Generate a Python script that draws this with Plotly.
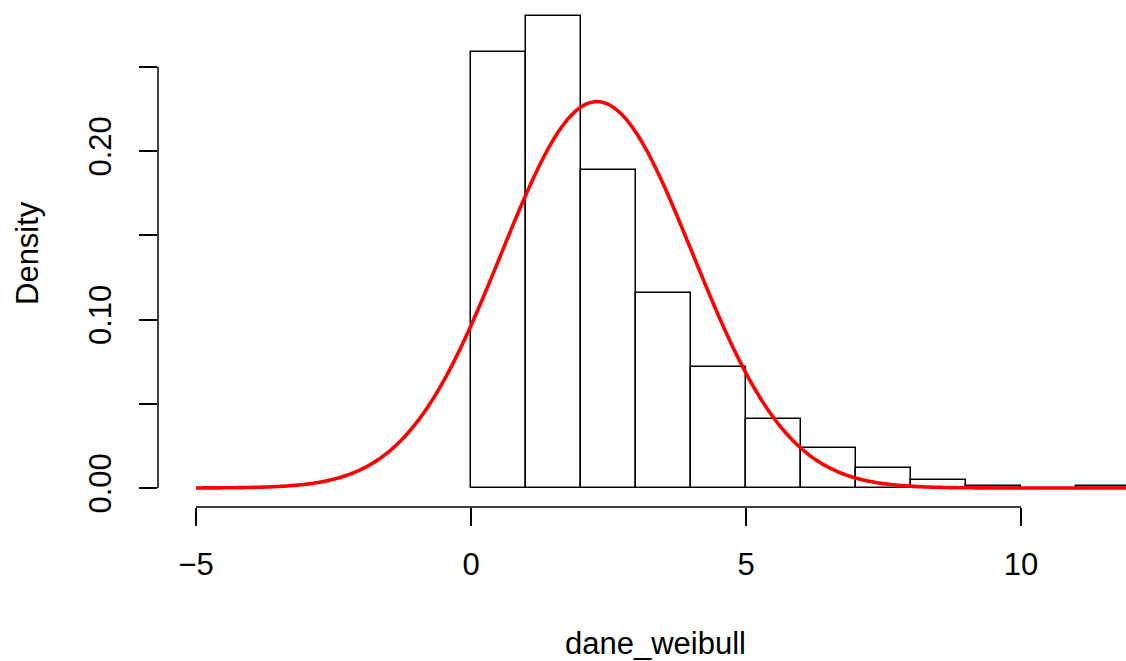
import numpy as np
import plotly.graph_objects as go

# Histogram data (density per unit-width bin)
bin_left = [0, 1, 2, 3, 4, 5, 6, 7, 8, 9, 10, 11]
bin_density = [0.259, 0.280, 0.189, 0.116, 0.072, 0.041, 0.024, 0.012, 0.005, 0.001, 0.0, 0.001]
bin_width = 1

# Fitted normal curve parameters
curve_mean = 2.29
curve_sd = 1.74
curve_from, curve_to = -5, 12

x_ticks = [-5, 0, 5, 10]
x_ticktext = ["\u22125", "0", "5", "10"]
y_ticks = [0.0, 0.05, 0.10, 0.15, 0.20, 0.25]
y_ticktext = ["0.00", "", "0.10", "", "0.20", ""]

FONT = "Liberation Sans, Arial, Helvetica, sans-serif"
FS = 31

xs = np.linspace(curve_from, curve_to, 601)
ys = np.exp(-(xs - curve_mean) ** 2 / (2 * curve_sd ** 2)) / (curve_sd * np.sqrt(2 * np.pi))

centers = [b + bin_width / 2 for b, d in zip(bin_left, bin_density) if d > 0]
heights = [d for d in bin_density if d > 0]

fig = go.Figure()
fig.add_trace(go.Bar(
    x=centers, y=heights, width=bin_width,
    marker=dict(color="white", line=dict(color="black", width=1.5)),
    showlegend=False, hoverinfo="skip",
))
fig.add_trace(go.Scatter(
    x=xs, y=ys, mode="lines",
    line=dict(color="#ff0000", width=3.6, shape="spline"),
    showlegend=False, hoverinfo="skip",
))

W, H = 1126, 661
ml, mr, mt, mb = 158, 0, 0, 154
# pixel scale derived from axis layout: 55 px/unit in x, 1685 px/unit in y
x0 = -5 - (196 - ml) / 55
x1 = x0 + (W - ml - mr) / 55
y0 = -(507 - 488) / 1685
y1 = y0 + (H - mt - mb) / 1685

fig.update_layout(
    width=W, height=H, autosize=False,
    margin=dict(l=ml, r=mr, t=mt, b=mb, pad=0),
    plot_bgcolor="white", paper_bgcolor="white",
    font=dict(family=FONT, size=FS, color="black"),
    bargap=0,
    xaxis=dict(
        range=[x0, x1], showgrid=False, zeroline=False, showline=False,
        tickmode="array", tickvals=x_ticks, ticktext=x_ticktext,
        ticks="outside", ticklen=18, tickwidth=1.5, tickcolor="black",
        ticklabelstandoff=12,
        tickfont=dict(family=FONT, size=FS, color="black"),
    ),
    yaxis=dict(
        range=[y0, y1], showgrid=False, zeroline=False, showline=False,
        tickmode="array", tickvals=y_ticks, ticktext=y_ticktext,
        ticks="outside", ticklen=18, tickwidth=1.5, tickcolor="black",
        tickangle=-90, ticklabelstandoff=16,
        tickfont=dict(family=FONT, size=FS, color="black"),
    ),
    shapes=[
        dict(type="line", xref="x", yref="paper", x0=x_ticks[0], x1=x_ticks[-1], y0=0, y1=0,
             line=dict(color="black", width=1.5)),
        dict(type="line", xref="paper", yref="y", x0=0, x1=0, y0=y_ticks[0], y1=y_ticks[-1],
             line=dict(color="black", width=1.5)),
    ],
    annotations=[
        dict(text="dane_weibull", xref="paper", yref="paper",
             x=(655 - ml) / (W - ml - mr), y=-(643 - (H - mb)) / (H - mt - mb),
             showarrow=False, xanchor="center", yanchor="middle",
             font=dict(family=FONT, size=FS, color="black")),
        dict(text="Density", xref="paper", yref="paper",
             x=-(ml - 27) / (W - ml - mr), y=(H - mb - 253) / (H - mt - mb),
             showarrow=False, xanchor="center", yanchor="middle", textangle=-90,
             font=dict(family=FONT, size=FS, color="black")),
    ],
)

fig.write_html(
    "out.html",
    config={"displayModeBar": False},
    post_script="document.body.style.margin='0';document.body.style.overflow='hidden';",
)
